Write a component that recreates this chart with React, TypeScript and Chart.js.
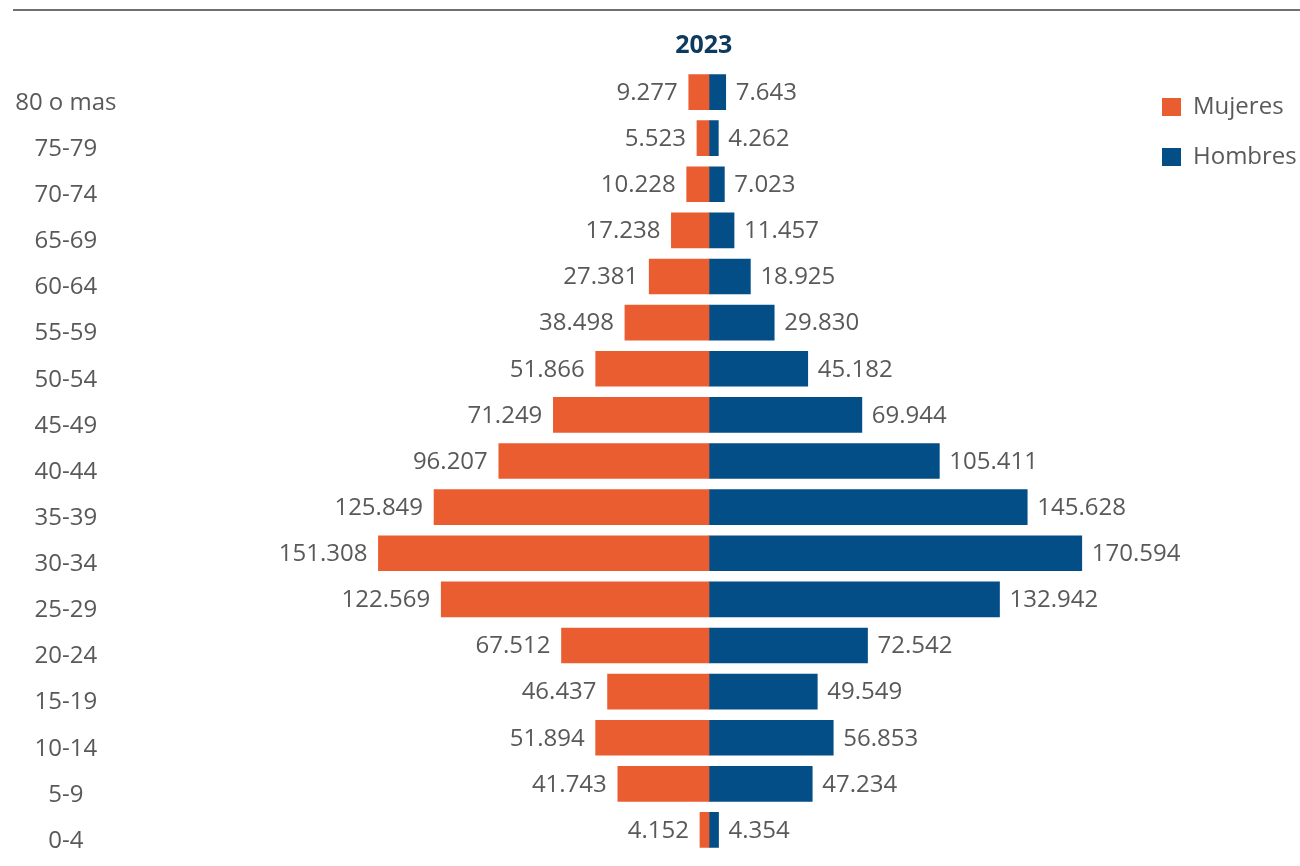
import React, { useEffect, useRef } from "react";
import { Chart, registerables } from "chart.js";

Chart.register(...registerables);

const categories: string[] = [
  "80 o mas", "75-79", "70-74", "65-69", "60-64", "55-59", "50-54", "45-49",
  "40-44", "35-39", "30-34", "25-29", "20-24", "15-19", "10-14", "5-9", "0-4",
];

const mujeres: number[] = [
  9277, 5523, 10228, 17238, 27381, 38498, 51866, 71249,
  96207, 125849, 151308, 122569, 67512, 46437, 51894, 41743, 4152,
];

const hombres: number[] = [
  7643, 4262, 7023, 11457, 18925, 29830, 45182, 69944,
  105411, 145628, 170594, 132942, 72542, 49549, 56853, 47234, 4354,
];

const seriesNames: string[] = ["Mujeres", "Hombres"];
const titleText = "2023";

const ORANGE = "#EA5D30";
const BLUE = "#034E87";
const TEXT = "#595959";
const FONT = "'Open Sans', 'Noto Sans', sans-serif";

const fmt = (v: number) =>
  String(Math.round(Math.abs(v))).replace(/\B(?=(\d{3})+(?!\d))/g, ".");

const topLinePlugin = {
  id: "topLine",
  beforeDraw(chart: any) {
    const ctx = chart.ctx;
    ctx.save();
    ctx.strokeStyle = "#707070";
    ctx.lineWidth = 2;
    ctx.beginPath();
    ctx.moveTo(13, 10);
    ctx.lineTo(chart.width, 10);
    ctx.stroke();
    ctx.restore();
  },
};

const valueLabelPlugin = {
  id: "valueLabels",
  afterDatasetsDraw(chart: any) {
    const ctx = chart.ctx;
    ctx.save();
    ctx.font = `24px ${FONT}`;
    ctx.fillStyle = TEXT;
    ctx.textBaseline = "middle";
    chart.data.datasets.forEach((ds: any, di: number) => {
      const meta = chart.getDatasetMeta(di);
      meta.data.forEach((el: any, i: number) => {
        const v = ds.data[i] as number;
        if (v < 0) {
          ctx.textAlign = "right";
          ctx.fillText(fmt(v), el.x - 11, el.y + 1);
        } else {
          ctx.textAlign = "left";
          ctx.fillText(fmt(v), el.x + 10, el.y + 1);
        }
      });
    });
    ctx.restore();
  },
};

export default function App() {
  const ref = useRef<HTMLCanvasElement | null>(null);

  useEffect(() => {
    if (!ref.current) return;
    const chart = new Chart(ref.current, {
      type: "bar",
      data: {
        labels: categories,
        datasets: [
          {
            label: seriesNames[0],
            data: mujeres.map((v) => -v),
            backgroundColor: ORANGE,
            borderWidth: 0,
            barThickness: 35,
          },
          {
            label: seriesNames[1],
            data: hombres,
            backgroundColor: BLUE,
            borderWidth: 0,
            barThickness: 35,
          },
        ],
      },
      options: {
        indexAxis: "y",
        responsive: false,
        animation: false,
        devicePixelRatio: 1,
        layout: { padding: { top: 20, bottom: 13, left: 0, right: 0 } },
        scales: {
          x: {
            stacked: true,
            display: false,
            min: -200240,
            max: 195410,
          },
          y: {
            stacked: true,
            grid: { display: false, drawTicks: false },
            border: { display: false },
            ticks: {
              crossAlign: "center",
              padding: 155,
              labelOffset: 11,
              color: TEXT,
              font: { family: FONT, size: 24 },
            },
            afterFit(scale: any) {
              scale.width = 271.5;
              scale.paddingTop = 0;
              scale.paddingBottom = 0;
            },
          },
        },
        plugins: {
          title: {
            display: true,
            text: titleText,
            position: "top",
            fullSize: false,
            color: "#0E3A5E",
            font: { family: FONT, size: 25, weight: "bold", lineHeight: 1.2 },
            padding: { top: 11, bottom: 8 },
          },
          legend: {
            display: true,
            position: "right",
            align: "start",
            fullSize: false,
            maxWidth: 164,
            labels: {
              boxWidth: 19,
              boxHeight: 18,
              padding: 26,
              color: TEXT,
              font: { family: FONT, size: 24, lineHeight: "23px" },
            },
          },
          tooltip: { enabled: false },
        },
      },
      plugins: [topLinePlugin, valueLabelPlugin],
    } as any);
    return () => chart.destroy();
  }, []);

  return (
    <div style={{ position: "fixed", left: 0, top: 0, width: 1300, height: 866, background: "#fff" }}>
      <canvas ref={ref} width={1300} height={866} style={{ display: "block" }} />
    </div>
  );
}
